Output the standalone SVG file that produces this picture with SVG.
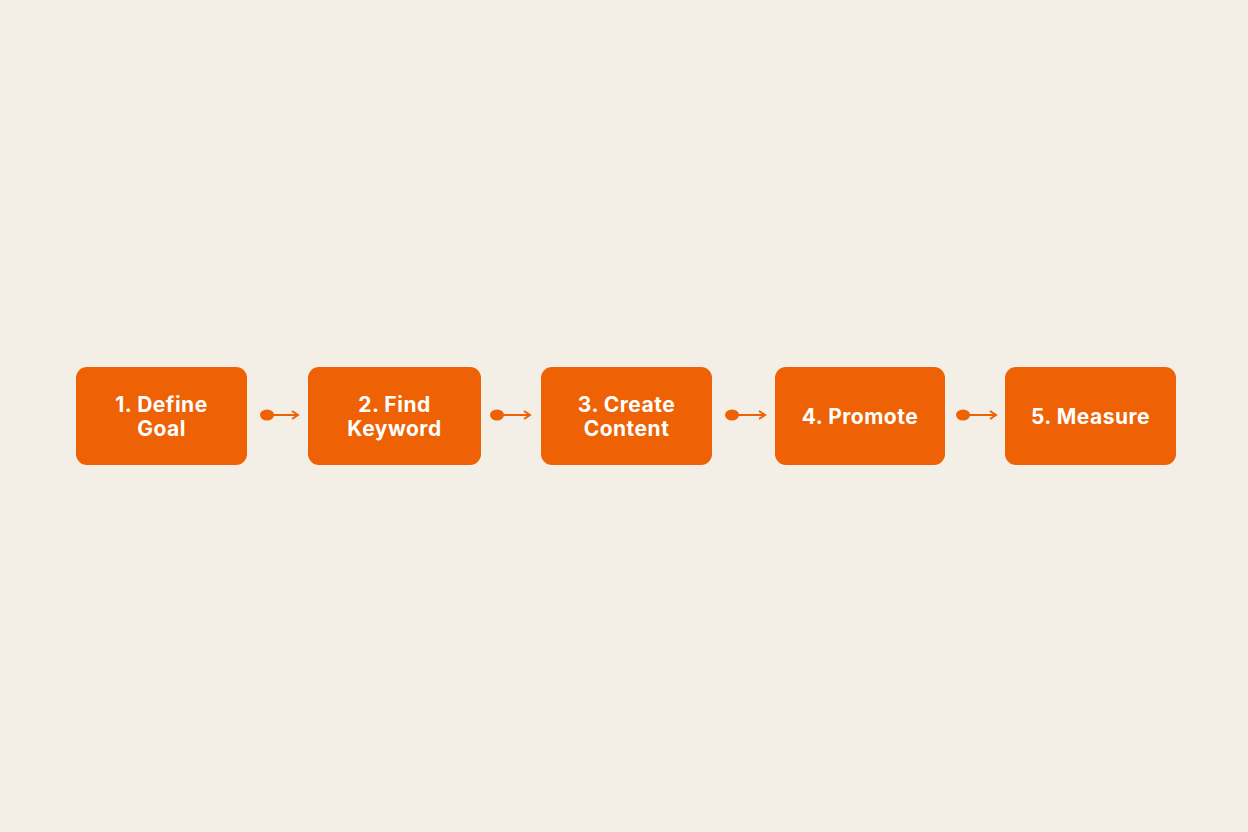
<svg xmlns="http://www.w3.org/2000/svg" width="1248" height="832" viewBox="0 0 1248 832">
<defs>
<style>
.box{fill:#EE6205;}
.lbl{font-family:"Inter","Liberation Sans",sans-serif;font-weight:bold;font-size:21px;letter-spacing:0.5px;fill:#FFFFFF;text-anchor:middle;}
.ln{stroke:#EE6205;stroke-width:2;fill:none;}
.dot{fill:#EE6205;}
</style>
<marker id="arr" markerWidth="10" markerHeight="10" refX="8" refY="5" orient="auto" markerUnits="userSpaceOnUse">
<path d="M2,1 L8,5 L2,9" fill="none" stroke="#EE6205" stroke-width="2"/>
</marker>
</defs>
<rect width="1248" height="832" fill="#F3EEE6"/>
<g id="connectors">
<ellipse class="dot" cx="267" cy="415" rx="7" ry="5.5"/><line class="ln" x1="272" y1="415" x2="298" y2="415" marker-end="url(#arr)"/>
<ellipse class="dot" cx="497" cy="415" rx="7" ry="5.5"/><line class="ln" x1="502" y1="415" x2="530" y2="415" marker-end="url(#arr)"/>
<ellipse class="dot" cx="732" cy="415" rx="7" ry="5.5"/><line class="ln" x1="737" y1="415" x2="765" y2="415" marker-end="url(#arr)"/>
<ellipse class="dot" cx="963" cy="415" rx="7" ry="5.5"/><line class="ln" x1="968" y1="415" x2="996" y2="415" marker-end="url(#arr)"/>
</g>
<g id="n1"><rect class="box" x="76" y="367" width="171" height="98" rx="11"/><text class="lbl" x="161.5" y="412">1. Define</text><text class="lbl" x="161.5" y="436">Goal</text></g>
<g id="n2"><rect class="box" x="308" y="367" width="173" height="98" rx="11"/><text class="lbl" x="394.5" y="412">2. Find</text><text class="lbl" x="394.5" y="436">Keyword</text></g>
<g id="n3"><rect class="box" x="541" y="367" width="171" height="98" rx="11"/><text class="lbl" x="626.5" y="412">3. Create</text><text class="lbl" x="626.5" y="436">Content</text></g>
<g id="n4"><rect class="box" x="775" y="367" width="170" height="98" rx="11"/><text class="lbl" x="860" y="424">4. Promote</text></g>
<g id="n5"><rect class="box" x="1005" y="367" width="171" height="98" rx="11"/><text class="lbl" x="1090.5" y="424">5. Measure</text></g>
</svg>
